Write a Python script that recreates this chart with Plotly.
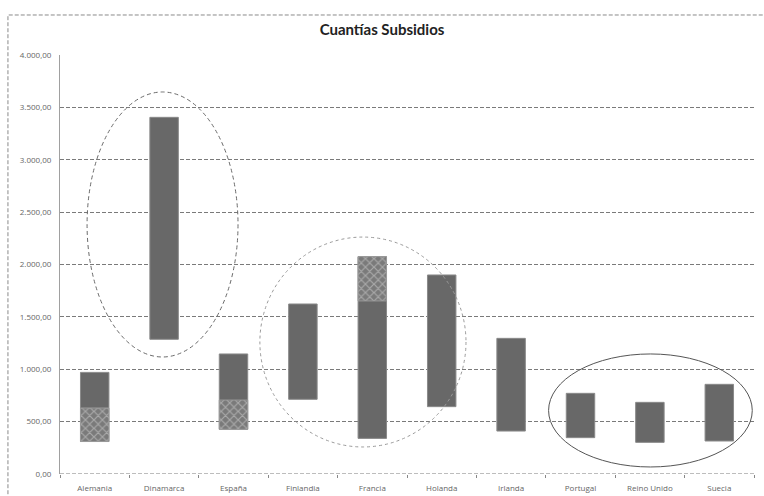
import plotly.graph_objects as go

# Cuantías de subsidios por país: rango mínimo–máximo
paises = ["Alemania", "Dinamarca", "España", "Finlandia", "Francia",
          "Holanda", "Irlanda", "Portugal", "Reino Unido", "Suecia"]
minimo = [310, 1286, 427, 713, 340, 643, 410, 347, 302, 315]
maximo = [970, 3405, 1146, 1623, 2075, 1900, 1295, 770, 684, 856]

# Tramos con trama dentro de algunos rangos (None = sin tramo)
trama_desde = [310, None, 427, None, 1652, None, None, None, None, None]
trama_hasta = [630, None, 706, None, 2075, None, None, None, None, None]

ticks_y = [0, 500, 1000, 1500, 2000, 2500, 3000, 3500, 4000]

fig = go.Figure()

fig.add_trace(go.Bar(
    x=paises,
    y=[hi - lo for lo, hi in zip(minimo, maximo)],
    base=minimo,
    width=0.41,
    marker=dict(color="#686868", line=dict(color="#8a8a8a", width=1)),
    hoverinfo="skip",
))

tx = [p for p, a in zip(paises, trama_desde) if a is not None]
tb = [a for a in trama_desde if a is not None]
th = [b - a for a, b in zip(trama_desde, trama_hasta) if a is not None]
fig.add_trace(go.Bar(
    x=tx, y=th, base=tb, width=0.41,
    marker=dict(color="#8c8c8c",
                line=dict(color="#9a9a9a", width=1),
                pattern=dict(shape="x", fgcolor="#d8d8d8", bgcolor="#7a7a7a",
                             size=6, solidity=0.35)),
    hoverinfo="skip",
))

# Línea base discontinua en 0
fig.add_shape(type="line", xref="paper", yref="y", x0=0, x1=1, y0=0, y1=0,
              line=dict(color="#7a7a7a", width=1, dash="4px,2px"))

# Elipses de resalte
fig.add_shape(type="circle", xref="x", yref="y",
              x0=-0.11, x1=2.065, y0=1117, y1=3647,
              line=dict(color="#6a6a6a", width=1, dash="4px,3px"))
fig.add_shape(type="circle", xref="x", yref="y",
              x0=2.38, x1=5.35, y0=258, y1=2262,
              line=dict(color="#9a9a9a", width=1, dash="dot"))
fig.add_shape(type="circle", xref="x", yref="y",
              x0=6.54, x1=9.475, y0=67, y1=1146,
              line=dict(color="#555555", width=1))

# Marco exterior del gráfico
fig.add_shape(type="rect", xref="paper", yref="paper",
              x0=-0.075, x1=1.02, y0=-0.1, y1=1.0955,
              line=dict(color="#8a8a8a", width=1, dash="4px,2px"))

fig.update_layout(
    width=764, height=496,
    margin=dict(l=60, r=10, t=55, b=22),
    paper_bgcolor="white", plot_bgcolor="white",
    barmode="overlay",
    showlegend=False,
    separators=",.",
    title=dict(text="<b>Cuantías Subsidios</b>", x=0.5, xanchor="center",
               y=0.94, yanchor="middle",
               font=dict(family="Lato, Open Sans, sans-serif", size=15, color="#222222")),
    font=dict(family="Open Sans, sans-serif", size=8, color="#666666"),
)
fig.update_xaxes(
    type="category", showgrid=False, showline=False, automargin=False,
    ticks="outside", tickson="boundaries", ticklen=3, tickcolor="#888888",
    ticklabelstandoff=8,
    tickfont=dict(size=8, color="#666666"),
)
fig.update_yaxes(
    range=[0, 4000], tickvals=ticks_y, tickformat=",.2f",
    showgrid=True, gridcolor="#7a7a7a", griddash="4px,2px", gridwidth=1,
    zeroline=False, showline=True, linecolor="#a0a0a0", linewidth=1,
    ticks="", ticklabelstandoff=6,
    tickfont=dict(size=8, color="#666666"),
)

fig.write_html("out.html")
